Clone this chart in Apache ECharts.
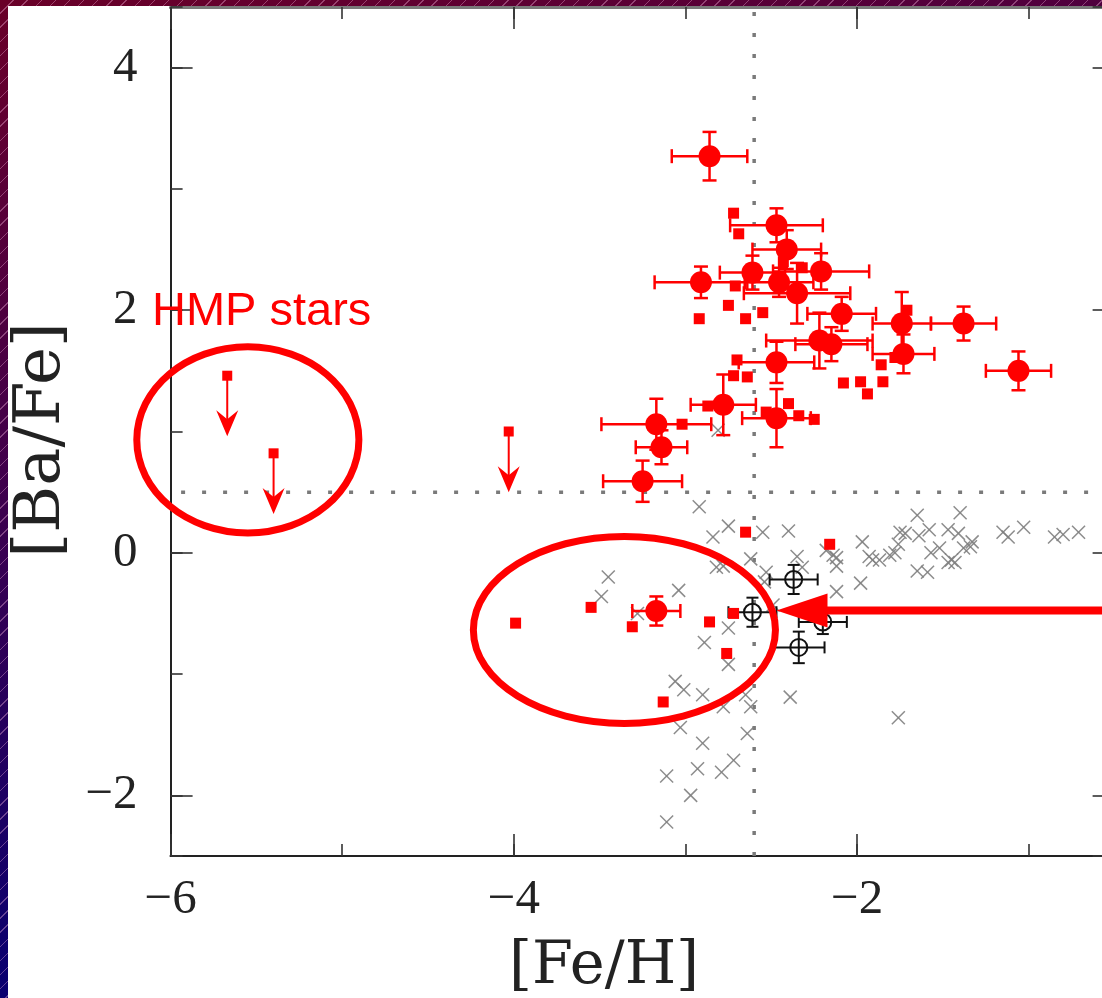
<!DOCTYPE html>
<html>
<head>
<meta charset="utf-8">
<script src="https://cdn.jsdelivr.net/npm/echarts@6/dist/echarts.min.js"></script>
<style>
html,body{margin:0;padding:0;width:1102px;height:998px;overflow:hidden;}
body{
  background:
    repeating-linear-gradient(135deg, rgba(255,255,255,0) 0px, rgba(255,255,255,0) 9px, rgba(255,190,230,0.35) 9px, rgba(255,190,230,0.35) 10px),
    linear-gradient(165deg, #6a0028 0%, #42004a 35%, #0b006e 75%, #000080 100%);
}
#paper{position:absolute;left:8px;top:6px;right:0;bottom:0;background:#fff;}
#chart{position:absolute;left:0;top:0;width:1102px;height:998px;}
</style>
</head>
<body>
<div id="paper"></div>
<div id="chart"></div>
<script>
// ---------------- data ----------------
// axis ranges and reference lines
const xRange = [-6, -0.5];
const yRange = [-2.5, 4.5];
const refFeH = -2.6;     // vertical dotted line
const refBaFe = 0.5;     // horizontal dotted line

// red filled circles with error bars
const circFeH   = [-2.86,-2.47,-2.41,-2.91,-2.61,-2.455,-2.35,-2.21,-2.09,-2.22,-2.15,-2.47,-1.74,-1.38,-1.73,-1.06,-2.47,-2.78,-3.17,-3.14,-3.25,-3.17];
const circBaFe  = [ 3.27, 2.70, 2.50, 2.23, 2.31, 2.23, 2.14, 2.32, 1.97, 1.75, 1.72, 1.57, 1.89, 1.89, 1.64, 1.50, 1.11, 1.22, 1.06, 0.87, 0.59,-0.48];
const circFeHErr= [ 0.22, 0.27, 0.20, 0.27, 0.19, 0.20, 0.31, 0.28, 0.20, 0.31, 0.21, 0.22, 0.17, 0.19, 0.18, 0.19, 0.20, 0.19, 0.32, 0.15, 0.23, 0.14];
const circBaFeErr=[ 0.20, 0.14, 0.16, 0.13, 0.14, 0.12, 0.25, 0.15, 0.14, 0.23, 0.14, 0.17, 0.26, 0.14, 0.16, 0.16, 0.24, 0.25, 0.21, 0.14, 0.17, 0.12];

// red filled squares
const sqFeH  = [-2.72,-2.69,-2.71,-2.75,-2.92,-2.65,-2.55,-2.43,-2.32,-2.70,-2.72,-2.64,-2.87,-3.02,-2.40,-2.34,-2.25,-2.53,-2.08,-1.98,-1.94,-1.85,-1.86,-1.71,-1.78,-2.65,-2.16,-3.99,-3.55,-3.31,-2.86,-2.72,-2.76,-3.13];
const sqBaFe = [ 2.80, 2.63, 2.20, 2.04, 1.93, 1.93, 1.98, 2.40, 2.35, 1.59, 1.46, 1.45, 1.21, 1.06, 1.23, 1.13, 1.10, 1.16, 1.40, 1.41, 1.31, 1.41, 1.55, 2.00, 1.61, 0.17, 0.07,-0.58,-0.45,-0.61,-0.57,-0.50,-0.83,-1.23];

// upper limits (square + downward arrow)
const limFeH  = [-5.67, -5.40, -4.03];
const limBaFe = [ 1.46,  0.82,  1.00];
const limLen  = [ 0.50,  0.50,  0.50];

// black open circles with error bars
const openFeH    = [-2.37,-2.61,-2.20,-2.34];
const openBaFe   = [-0.22,-0.49,-0.57,-0.78];
const openFeHErr = [ 0.14, 0.14, 0.14, 0.15];
const openBaFeErr= [ 0.12, 0.12, 0.10, 0.13];

// grey crosses
const crossFeH  = [-2.92,-2.75,-2.84,-2.55,-2.40,-2.62,-2.82,-2.78,-2.53,-2.35,-2.32,-2.18,-2.12,-2.12,-2.54,-3.45,-3.49,-3.04,-3.28,-2.75,-2.89,-2.12,-2.75,-3.06,-3.01,-2.90,-2.78,-2.65,-2.62,-2.39,-3.03,-2.90,-2.64,-2.72,-2.93,-2.79,-3.11,-2.97,-3.11,-1.65,-1.40,-1.75,-1.72,-1.64,-1.58,-1.47,-1.41,-1.33,-1.38,-1.34,-1.52,-1.57,-1.45,-1.47,-1.43,-1.76,-1.78,-1.81,-1.87,-1.93,-1.91,-1.97,-1.65,-1.59,-1.15,-1.12,-1.03,-0.85,-0.80,-0.71,-1.98,-2.14,-2.81,-2.49,-1.76];
const crossBaFe = [ 0.38, 0.22, 0.13, 0.17, 0.18,-0.05,-0.12,-0.11,-0.16,-0.03,-0.12, 0.02,-0.04,-0.11,-0.24,-0.20,-0.36,-0.31,-0.50,-0.62,-0.74,-0.32,-0.92,-1.06,-1.13,-1.17,-1.27,-1.17,-1.27,-1.19,-1.44,-1.57,-1.49,-1.71,-1.78,-1.81,-1.84,-2.00,-2.22, 0.31, 0.33, 0.17, 0.16, 0.14, 0.19, 0.19, 0.16, 0.09, 0.04, 0.05, 0.04, 0.00,-0.06,-0.08,-0.08, 0.07, 0.00,-0.02,-0.06,-0.03,-0.06, 0.09,-0.15,-0.16, 0.17, 0.13, 0.21, 0.13, 0.15, 0.17,-0.25,-0.02, 1.01,-0.43,-1.36];

// annotation ellipses: centre and radii in data units
const ellFeH  = [-5.55, -3.356];
const ellBaFe = [ 0.931,-0.636];
const ellRx   = [ 0.647, 0.880];
const ellRy   = [ 0.767, 0.771];

// annotation arrow: tip and tail
const arrowTip  = [-2.47, -0.475];
const arrowTail = [-0.2, -0.475];

const label = 'HMP stars';

// ---------------- chart ----------------
const RED = '#ff0000';
const zip = (...arrs) => arrs[0].map((_, i) => arrs.map(a => a[i]));
const minus = v => String(v).replace('-', '\u2212');

function mkX(position, major) {
  const isLab = major && position === 'bottom';
  return {
    type: 'value', gridIndex: 0, position,
    min: xRange[0], max: xRange[1],
    minInterval: major ? 2 : 1, maxInterval: major ? 2 : 1, splitNumber: major ? 3 : 6,
    axisLine: {show: true, onZero: false, lineStyle: {color: position === 'top' ? '#7a7a7a' : '#222', width: position === 'top' ? 3 : 2}},
    axisTick: {show: true, inside: true, length: major ? 22 : 12, lineStyle: {color: '#333', width: 1.6}},
    axisLabel: {show: isLab, showMinLabel: true, showMaxLabel: false, margin: 20, formatter: minus,
      fontFamily: 'Liberation Serif', fontSize: 49, color: '#222'},
    splitLine: {show: false},
    name: isLab ? '[Fe/H]' : '', nameLocation: 'middle', nameGap: 82,
    nameTextStyle: {fontFamily: 'DejaVu Serif', fontSize: 59, color: '#222', padding: [0, 77, 0, 0]}
  };
}
function mkY(position, major) {
  const isLab = major && position === 'left';
  return {
    type: 'value', gridIndex: 0, position,
    min: yRange[0], max: yRange[1],
    minInterval: major ? 2 : 1, maxInterval: major ? 2 : 1, splitNumber: major ? 3 : 7,
    axisLine: {show: true, onZero: false, lineStyle: {color: '#222', width: 2}},
    axisTick: {show: true, inside: true, length: major ? 22 : 12, lineStyle: {color: '#333', width: 1.6}},
    axisLabel: {show: isLab, showMinLabel: false, showMaxLabel: false, margin: 33, formatter: minus,
      fontFamily: 'Liberation Serif', fontSize: 49, color: '#222'},
    splitLine: {show: false},
    name: isLab ? '[Ba/Fe]' : '', nameLocation: 'middle', nameGap: 96,
    nameTextStyle: {fontFamily: 'DejaVu Serif', fontSize: 64, color: '#222', padding: [0, 17, 0, 0]}
  };
}

function errBarGroup(api, x, y, xe, ye, color, lw, cap) {
  const l = api.coord([x - xe, y]), r = api.coord([x + xe, y]);
  const t = api.coord([x, y + ye]), b = api.coord([x, y - ye]);
  const st = {stroke: color, lineWidth: lw, fill: null};
  return [
    {type: 'line', shape: {x1: l[0], y1: l[1], x2: r[0], y2: r[1]}, style: st},
    {type: 'line', shape: {x1: l[0], y1: l[1] - cap, x2: l[0], y2: l[1] + cap}, style: st},
    {type: 'line', shape: {x1: r[0], y1: r[1] - cap, x2: r[0], y2: r[1] + cap}, style: st},
    {type: 'line', shape: {x1: t[0], y1: t[1], x2: b[0], y2: b[1]}, style: st},
    {type: 'line', shape: {x1: t[0] - cap, y1: t[1], x2: t[0] + cap, y2: t[1]}, style: st},
    {type: 'line', shape: {x1: b[0] - cap, y1: b[1], x2: b[0] + cap, y2: b[1]}, style: st}
  ];
}

const option = {
  animation: false,
  backgroundColor: 'transparent',
  grid: {left: 170.6, top: 7, width: 944, height: 849, containLabel: false, outerBoundsMode: 'none'},
  xAxis: [mkX('bottom', true), mkX('bottom', false), mkX('top', true), mkX('top', false)],
  yAxis: [mkY('left', true), mkY('left', false), mkY('right', true), mkY('right', false)],
  graphic: [{
    type: 'text', left: 152, top: 289, z: 100,
    style: {text: label, font: '47px "Liberation Sans"', fill: RED}
  }],
  series: [
    { // horizontal dotted line
      type: 'line', silent: true, symbol: 'none', z: 1,
      data: [[xRange[0], refBaFe], [xRange[1], refBaFe]],
      lineStyle: {color: '#7a7a7a', width: 3.5, type: [4, 17], dashOffset: 10.5}
    },
    { // vertical dotted line
      type: 'line', silent: true, symbol: 'none', z: 1,
      data: [[refFeH, yRange[0]], [refFeH, yRange[1]]],
      lineStyle: {color: '#7a7a7a', width: 3.5, type: [4, 17], dashOffset: 0}
    },
    { // grey crosses
      type: 'custom', silent: true, z: 2,
      data: zip(crossFeH, crossBaFe),
      renderItem: (p, api) => {
        const c = api.coord([api.value(0), api.value(1)]);
        const h = 6.5, st = {stroke: '#7f7f7f', lineWidth: 1.5, opacity: 0.9};
        return {type: 'group', children: [
          {type: 'line', shape: {x1: c[0] - h, y1: c[1] - h, x2: c[0] + h, y2: c[1] + h}, style: st},
          {type: 'line', shape: {x1: c[0] - h, y1: c[1] + h, x2: c[0] + h, y2: c[1] - h}, style: st}
        ]};
      }
    },
    { // black open circles with error bars
      type: 'custom', silent: true, z: 3,
      data: zip(openFeH, openBaFe, openFeHErr, openBaFeErr),
      renderItem: (p, api) => {
        const x = api.value(0), y = api.value(1);
        const c = api.coord([x, y]);
        const ch = errBarGroup(api, x, y, api.value(2), api.value(3), '#111', 2, 6);
        ch.push({type: 'circle', shape: {cx: c[0], cy: c[1], r: 8.5}, style: {fill: null, stroke: '#111', lineWidth: 2}});
        return {type: 'group', children: ch};
      }
    },
    { // red squares
      type: 'scatter', silent: true, z: 4,
      data: zip(sqFeH, sqBaFe),
      symbol: 'rect', symbolSize: 11,
      itemStyle: {color: RED, opacity: 1}
    },
    { // red circles with error bars
      type: 'custom', silent: true, z: 5,
      data: zip(circFeH, circBaFe, circFeHErr, circBaFeErr),
      renderItem: (p, api) => {
        const x = api.value(0), y = api.value(1);
        const c = api.coord([x, y]);
        const ch = errBarGroup(api, x, y, api.value(2), api.value(3), RED, 2.5, 7);
        ch.push({type: 'circle', shape: {cx: c[0], cy: c[1], r: 11}, style: {fill: RED}});
        return {type: 'group', children: ch};
      }
    },
    { // upper limits
      type: 'custom', silent: true, z: 5, clip: false,
      data: zip(limFeH, limBaFe, limLen),
      renderItem: (p, api) => {
        const x = api.value(0), y = api.value(1);
        const a = api.coord([x, y]);
        const b = api.coord([x, y - api.value(2)]);
        return {type: 'group', children: [
          {type: 'line', shape: {x1: a[0], y1: a[1], x2: b[0], y2: b[1] - 10}, style: {stroke: RED, lineWidth: 2}},
          {type: 'polygon', shape: {points: [[b[0], b[1]], [b[0] - 11, b[1] - 26], [b[0], b[1] - 17], [b[0] + 11, b[1] - 26]]}, style: {fill: RED}},
          {type: 'rect', shape: {x: a[0] - 5, y: a[1] - 5, width: 10, height: 10}, style: {fill: RED}}
        ]};
      }
    },
    { // annotation ellipses
      type: 'custom', silent: true, z: 6, clip: false,
      data: zip(ellFeH, ellBaFe, ellRx, ellRy),
      renderItem: (p, api) => {
        const c = api.coord([api.value(0), api.value(1)]);
        const s = api.size([api.value(2), api.value(3)]);
        return {type: 'ellipse', shape: {cx: c[0], cy: c[1], rx: s[0], ry: s[1]},
          style: {fill: null, stroke: RED, lineWidth: 7}};
      }
    },
    { // annotation arrow
      type: 'custom', silent: true, z: 7, clip: false,
      data: [[arrowTip[0], arrowTip[1], arrowTail[0], arrowTail[1]]],
      renderItem: (p, api) => {
        const tip = api.coord([api.value(0), api.value(1)]);
        const tail = api.coord([api.value(2), api.value(3)]);
        const hl = 51, hh = 17;
        return {type: 'group', children: [
          {type: 'line', shape: {x1: tail[0], y1: tail[1], x2: tip[0] + hl - 2, y2: tip[1]}, style: {stroke: RED, lineWidth: 8}},
          {type: 'polygon', shape: {points: [[tip[0], tip[1]], [tip[0] + hl, tip[1] - hh], [tip[0] + hl, tip[1] + hh]]}, style: {fill: RED}}
        ]};
      }
    }
  ]
};

const chart = echarts.init(document.getElementById('chart'), null, {renderer: 'canvas', width: 1102, height: 998});
chart.setOption(option);
</script>
</body>
</html>
